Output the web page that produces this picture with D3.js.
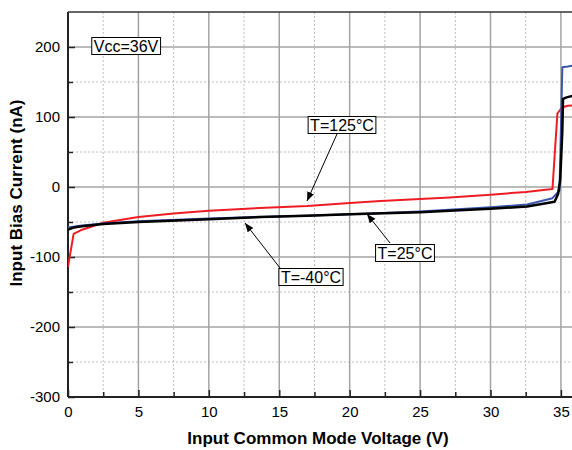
<!DOCTYPE html>
<html>
<head>
<meta charset="utf-8">
<script src="https://cdn.jsdelivr.net/npm/d3@7"></script>
<style>
  html, body { margin: 0; padding: 0; background: #fff; }
  svg { display: block; font-family: "Liberation Sans", Arial, sans-serif; }
</style>
</head>
<body>
<svg id="chart" width="572" height="450"></svg>
<script>
// Input bias current vs. input common-mode voltage, Vcc = 36 V
const xTicks = [0, 5, 10, 15, 20, 25, 30, 35];
const xMinorTicks = [2.5, 7.5, 12.5, 17.5, 22.5, 27.5, 32.5];
const yTicks = [-300, -200, -100, 0, 100, 200];
const yMinorTicks = [-250, -150, -50, 50, 150];

// T = 125 °C
const vcm125 = [0, 0.4, 1, 2.5, 5, 7.5, 10, 13.6, 17, 20, 22.2, 25, 27.1, 30, 32.5, 34.4, 34.75, 35.1, 35.5, 36];
const ib125  = [-114, -67, -61, -51, -43, -38, -34, -30, -27, -23, -20, -17, -15, -11, -7, -3, 105, 114, 116, 117];

// T = -40 °C
const vcmM40 = [0, 1, 2.5, 5, 10, 15, 20, 25, 30, 32.6, 34.4, 34.9, 35.1, 35.5, 36];
const ibM40  = [-58, -55, -52, -49, -45, -42, -39, -35, -29, -25, -16, -5, 171, 172, 174];

// T = 25 °C
const vcm25 = [0, 0.4, 1, 2.5, 5, 10, 13.6, 17, 20, 25, 27.1, 30, 32.6, 34.55, 34.8, 34.95, 35.1, 35.15, 35.4, 36];
const ib25  = [-61, -58, -56, -53, -50, -46, -43, -41, -39, -36, -34, -31, -28, -21, -10, 10, 80, 126, 128, 131];

const svg = d3.select("#chart");
const W = 572;
const pL = 68, pT = 12, pB = 397, pR = 575;

const xScale = d3.scaleLinear().domain([0, 36]).range([pL, pR]);
const yScale = d3.scaleLinear().domain([-300, 250]).range([pB, pT]);

const defs = svg.append("defs");
defs.append("clipPath").attr("id", "plotClip")
  .append("rect").attr("x", pL).attr("y", pT)
  .attr("width", W - pL).attr("height", pB - pT);

// layers, bottom to top
const gridLayer = svg.append("g").attr("class", "grid-layer");
const axisLayer = svg.append("g").attr("class", "axis-layer");
const curveLayer = svg.append("g").attr("class", "curve-layer").attr("clip-path", "url(#plotClip)");
const noteLayer = svg.append("g").attr("class", "note-layer");

// axes with inward ticks; labels keep a plain hyphen for negatives
const fmt = d => String(d);
const xAxis = d3.axisBottom(xScale).tickValues(xTicks).tickSize(-7).tickPadding(9).tickFormat(fmt);
const xAxisMinor = d3.axisBottom(xScale).tickValues(xMinorTicks).tickSize(-5).tickFormat(() => "");
const yAxis = d3.axisLeft(yScale).tickValues(yTicks).tickSize(-7).tickPadding(8).tickFormat(fmt);
const yAxisMinor = d3.axisLeft(yScale).tickValues(yMinorTicks).tickSize(-5).tickFormat(() => "");

function styleAxis(g) {
  g.select(".domain").remove();
  g.selectAll(".tick line").attr("stroke", "#222").attr("stroke-width", 1.5);
  g.selectAll(".tick text").attr("fill", "#000").style("font-size", "15px")
    .style("font-family", "'Liberation Sans', Arial, sans-serif");
}
axisLayer.append("g").attr("transform", `translate(0,${pB})`).call(xAxis).call(styleAxis);
axisLayer.append("g").attr("transform", `translate(0,${pB})`).call(xAxisMinor).call(styleAxis);
axisLayer.append("g").attr("transform", `translate(${pL},0)`).call(yAxis).call(styleAxis);
axisLayer.append("g").attr("transform", `translate(${pL},0)`).call(yAxisMinor).call(styleAxis);

// frame
axisLayer.append("line").attr("x1", pL).attr("x2", W).attr("y1", pB).attr("y2", pB)
  .attr("stroke", "#222").attr("stroke-width", 2);
axisLayer.append("line").attr("x1", pL).attr("x2", pL).attr("y1", pT).attr("y2", pB)
  .attr("stroke", "#222").attr("stroke-width", 2);
axisLayer.append("line").attr("x1", pL).attr("x2", W).attr("y1", pT).attr("y2", pT)
  .attr("stroke", "#333").attr("stroke-width", 1.5);

// curves
const line = d3.line().x(d => xScale(d[0])).y(d => yScale(d[1]));
const series = [
  { v: vcm125, i: ib125, color: "#ee1c24", w: 2 },
  { v: vcmM40, i: ibM40, color: "#3a56a8", w: 2 },
  { v: vcm25,  i: ib25,  color: "#000000", w: 2.5 }
];
series.forEach(s => {
  curveLayer.append("path")
    .datum(d3.zip(s.v, s.i))
    .attr("d", line)
    .attr("fill", "none")
    .attr("stroke", s.color)
    .attr("stroke-width", s.w)
    .attr("stroke-linejoin", "round");
});

// arrow marker
defs.append("marker")
  .attr("id", "arrow").attr("viewBox", "0 0 10 10")
  .attr("refX", 10).attr("refY", 5)
  .attr("markerWidth", 9).attr("markerHeight", 9)
  .attr("markerUnits", "userSpaceOnUse")
  .attr("orient", "auto")
  .append("path").attr("d", "M0,1 L10,5 L0,9 Z").attr("fill", "#000");

// labelled boxes
function boxLabel(text, cx, cy) {
  const g = noteLayer.append("g");
  const t = g.append("text").attr("x", cx).attr("y", cy)
    .attr("text-anchor", "middle").attr("dominant-baseline", "central")
    .style("font-size", "16px").text(text);
  const b = t.node().getBBox();
  g.insert("rect", "text")
    .attr("x", b.x - 2).attr("y", b.y)
    .attr("width", b.width + 4).attr("height", b.height)
    .attr("fill", "#fff").attr("stroke", "#000").attr("stroke-width", 1);
}
function arrow(x1, y1, x2, y2) {
  noteLayer.append("line").attr("x1", x1).attr("y1", y1).attr("x2", x2).attr("y2", y2)
    .attr("stroke", "#000").attr("stroke-width", 1).attr("marker-end", "url(#arrow)");
}

arrow(337, 134, 307, 201);
arrow(390, 243, 367, 214);
arrow(280, 268, 245, 223);

boxLabel("Vcc=36V", 126, 46);
boxLabel("T=125°C", 342, 125);
boxLabel("T=25°C", 405, 253);
boxLabel("T=-40°C", 311, 277);

// axis titles
noteLayer.append("text")
  .attr("x", 318).attr("y", 444)
  .attr("text-anchor", "middle")
  .style("font-size", "17px").style("font-weight", "bold")
  .text("Input Common Mode Voltage (V)");
noteLayer.append("text")
  .attr("transform", "translate(22,193) rotate(-90)")
  .attr("text-anchor", "middle")
  .style("font-size", "17px").style("font-weight", "bold")
  .text("Input Bias Current (nA)");

// grid: dashed minor lines, solid major lines (drawn into the bottom layer)
function gridLines(values, vertical, color, width, dash) {
  const g = gridLayer.append("g");
  values.forEach(v => {
    const ln = g.append("line")
      .attr("stroke", color).attr("stroke-width", width);
    if (dash) ln.attr("stroke-dasharray", dash);
    if (vertical) {
      ln.attr("x1", xScale(v)).attr("x2", xScale(v)).attr("y1", pT).attr("y2", pB);
    } else {
      ln.attr("x1", pL).attr("x2", W).attr("y1", yScale(v)).attr("y2", yScale(v));
    }
  });
}
gridLines(xMinorTicks, true, "#bdbdbd", 1, "2,2");
gridLines(yMinorTicks, false, "#bdbdbd", 1, "2,2");
gridLines(xTicks.slice(1), true, "#a3a3a3", 1.5, null);
gridLines(yTicks.slice(1), false, "#a3a3a3", 1.5, null);
</script>
</body>
</html>
